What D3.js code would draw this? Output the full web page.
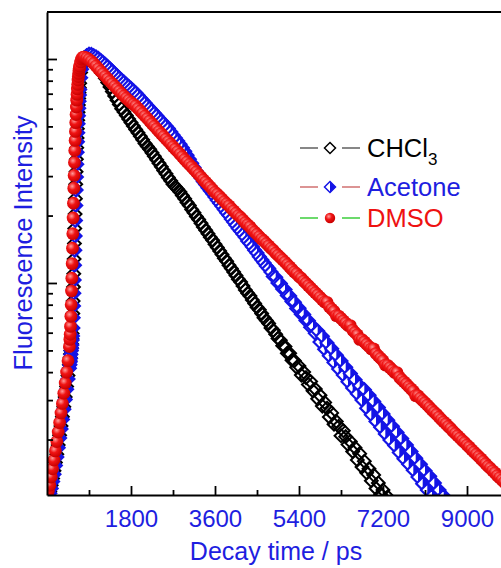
<!DOCTYPE html>
<html>
<head>
<meta charset="utf-8">
<script src="https://cdn.jsdelivr.net/npm/d3@7"></script>
<style>
  body { margin: 0; background: #fff; }
  text { font-family: Arial, "Liberation Sans", sans-serif; }
</style>
</head>
<body>
<div id="chart"></div>
<script>

///////////////////////////////////////////////////////////////////////////
////////////////////////////////// Data ///////////////////////////////////
///////////////////////////////////////////////////////////////////////////

// time channels (ps) - rising edge is sampled finer than the decay
var riseTime = [0, 30, 60, 90, 120, 150, 180, 210, 240, 270, 300, 330, 360, 390, 420, 450, 480,
  490, 497, 504, 511, 518, 525, 532, 539, 546, 553, 560, 567, 574, 581, 588, 595, 602, 609, 616,
  623, 630, 637, 644, 651, 658, 665, 672, 679, 686, 693, 700,
  720, 740, 760, 780]

var decayTime = [800, 850, 900, 950, 1000, 1050, 1100, 1150, 1200, 1250, 1300, 1350, 1400, 1450, 1500, 1550, 1600, 1650, 1700, 1750,
  1800, 1850, 1900, 1950, 2000, 2050, 2100, 2150, 2200, 2250, 2300, 2350, 2400, 2450, 2500, 2550, 2600, 2650, 2700, 2750,
  2800, 2850, 2900, 2950, 3000, 3050, 3100, 3150, 3200, 3250, 3300, 3350, 3400, 3450, 3500, 3550, 3600, 3650, 3700, 3750,
  3800, 3850, 3900, 3950, 4000, 4050, 4100, 4150, 4200, 4250, 4300, 4350, 4400, 4450, 4500, 4550, 4600, 4650, 4700, 4750,
  4800, 4850, 4900, 4950, 5000, 5050, 5100, 5150, 5200, 5250, 5300, 5350, 5400, 5450, 5500, 5550, 5600, 5650, 5700, 5750,
  5800, 5850, 5900, 5950, 6000, 6050, 6100, 6150, 6200, 6250, 6300, 6350, 6400, 6450, 6500, 6550, 6600, 6650, 6700, 6750,
  6800, 6850, 6900, 6950, 7000, 7050, 7100, 7150, 7200, 7250, 7300, 7350, 7400, 7450, 7500, 7550, 7600, 7650, 7700, 7750,
  7800, 7850, 7900, 7950, 8000, 8050, 8100, 8150, 8200, 8250, 8300, 8350, 8400, 8450, 8500, 8550, 8600, 8650, 8700, 8750,
  8800, 8850, 8900, 8950, 9000, 9050, 9100, 9150, 9200, 9250, 9300, 9350, 9400, 9450, 9500, 9550, 9600, 9650, 9700, 9750,
  9800, 9850, 9900, 9950, 10000]

// counts on the rising edge (one per riseTime)
var chcl3Rise = [10.9, 11.2, 11.7, 12.5, 13.4, 14.5, 15.8, 17.2, 18.9, 20.9, 23, 25.3, 28, 31, 34.5, 38.6, 43.2,
  45, 46.5, 48.2, 50, 51.5, 53.5, 56.5, 59.5, 63, 73, 83, 96, 110, 128, 150, 175, 203, 238, 276,
  314, 357, 402, 444, 488, 533, 578, 623, 667, 707, 745, 780,
  870, 930, 970, 1000]
var acetoneRise = [10.8, 11.1, 11.5, 12.1, 13.0, 14.0, 15.3, 16.7, 18.4, 20.3, 22.3, 24.6, 27.3, 30.2, 33.5, 37.3, 41.6,
  43.2, 44.5, 46, 48, 49.8, 51, 52.8, 55.6, 58, 63, 70, 79, 90, 103, 120, 140, 162, 190, 222,
  260, 297, 339, 383, 427, 469, 514, 558, 603, 648, 690, 730,
  825, 900, 952, 990]
var dmsoRise = [11.3, 11.8, 12.5, 13.6, 14.8, 16.2, 17.8, 19.6, 21.6, 23.8, 26.3, 29, 32.2, 35.8, 40, 45, 52,
  56, 59, 64, 71, 80, 92, 105, 122, 143, 166, 195, 227, 265, 302, 345, 390, 433, 475, 520,
  565, 610, 655, 695, 735, 770, 805, 835, 862, 890, 910, 930,
  970, 1000, 1015, 1020]

// counts on the decay (one per decayTime, until the trace leaves the frame)
var chcl3Decay = [1015, 1030, 1025, 1008, 985, 958, 930, 893, 855, 820, 785, 750, 715, 684, 655, 627, 600, 580, 560, 539,
  520, 502, 485, 468, 452, 436, 420, 407, 395, 381, 368, 355, 342, 330, 318, 307, 296, 286, 276, 269,
  262, 255, 246, 238, 229, 222, 213, 206, 198, 192, 185, 178, 172, 166, 160, 155, 149, 144, 139, 134,
  129, 125, 120, 116, 112, 108, 104, 101, 97, 93, 90, 87.5, 84, 81, 78, 76, 73, 70, 68, 66,
  63, 61.5, 59, 56.5, 55.5, 52.5, 52, 48.6, 48.5, 45.2, 45, 42, 42.6, 38.8, 40, 37.8, 35.2, 36.3, 33, 33.6,
  30.4, 31.5, 28.2, 29.3, 27.6, 25.2, 26.3, 23.4, 24.1, 22.9, 20.8, 21.9, 20.6, 19, 19.6, 17.7, 18.4, 16.2, 17.3, 15.1,
  16, 14.2, 14.8, 13.1, 13.9, 12.1, 12.8, 11.4, 11.9, 10.6, 11.1, 9.9, 10.3]
var acetoneDecay = [1010, 1035, 1050, 1048, 1035, 1022, 1005, 985, 965, 945, 925, 903, 882, 862, 842, 823, 805, 787, 770, 754,
  738, 722, 706, 688, 670, 653, 636, 619, 603, 588, 573, 558, 543, 529, 516, 502, 489, 473, 458, 444,
  430, 416, 402, 387, 372, 357, 342, 328, 315, 304, 294, 284, 275, 266, 258, 250, 242, 234, 227, 220,
  213, 206, 200, 193, 187, 181, 175, 170, 165, 160, 154, 150, 145, 140, 136, 131, 127, 123, 119, 116,
  112, 107, 106, 100, 99.5, 94, 93.5, 88, 87.5, 82.6, 82.1, 77, 77.2, 72.5, 72.4, 68, 67.9, 63.5, 63.9, 59.6,
  61, 54.5, 57.8, 50.6, 54, 47.3, 50.9, 44.2, 47.6, 41.3, 44.9, 38.8, 42, 36.2, 39.4, 34, 37, 32, 34.8, 30,
  33.4, 27.6, 31.5, 25.8, 29.6, 24.1, 27.8, 22.7, 26, 21.2, 24.4, 19.9, 22.9, 18.8, 21.5, 17.5, 20.2, 16.4, 18.9, 15.5,
  17.7, 14.6, 16.5, 13.6, 15.5, 12.7, 14.5, 11.9, 13.7, 11.2, 12.8, 10.5, 11.9, 10.1, 11.2, 9.5, 10.3]
var dmsoDecay = [1020, 1010, 995, 976, 955, 930, 905, 882, 860, 837, 815, 795, 775, 756, 737, 718, 700, 684, 668, 654,
  640, 628, 617, 601, 586, 571, 556, 542, 528, 514, 501, 488, 475, 463, 451, 439, 428, 417, 406, 396,
  386, 376, 366, 356, 347, 338, 330, 321, 313, 305, 297, 289, 282, 275, 268, 261, 254, 249, 243, 237,
  231, 226, 221, 215, 210, 205, 200, 196, 191, 186, 182, 178, 173, 169, 165, 161, 157, 154, 150, 146.5,
  143, 140, 136, 133, 130, 127, 124, 121, 118, 115, 112, 110, 107, 105, 102, 99.7, 97.3, 95, 92.7, 90.5,
  88.4, 86.3, 84.2, 82.2, 82, 78.4, 76.5, 74.7, 71.5, 71.2, 69.5, 67.8, 66.2, 64.6, 64.5, 61.6, 60.1, 58.7, 56, 55.9,
  54.6, 53.3, 52, 50.8, 50.8, 48.4, 47.2, 46.1, 45, 43, 42.9, 41.9, 40.9, 39.9, 39.8, 38, 37.1, 36.2, 35.4, 34.5,
  33.7, 32.9, 31.4, 31.4, 30.6, 29.9, 29.2, 28.5, 27.8, 27.1, 26.5, 25.9, 25.2, 24.6, 24, 23.5, 22.9, 22.4, 21.8, 21.3,
  20.8, 20.3, 19.8, 19.4, 18.9, 18.5, 18, 17.6, 17.2, 16.8, 16.4, 16, 15.6, 15.2, 14.9, 14.5, 14.2, 13.8, 13.5, 13.2,
  12.9, 12.6, 12.3, 12, 11.7]

var solvents = ["CHCl3", "Acetone", "DMSO"]
var xTicks = [1800, 3600, 5400, 7200, 9000]
var xMinorTicks = [900, 2700, 4500, 6300, 8100, 9900]
var yTicks = [100, 1000]
var yMinorTicks = [20, 30, 40, 50, 60, 70, 80, 90, 200, 300, 400, 500, 600, 700, 800, 900]

///////////////////////////////////////////////////////////////////////////
///////////////////////////////// Globals /////////////////////////////////
///////////////////////////////////////////////////////////////////////////

var canvasDim = { width: 501, height: 568 }
var plot = { left: 47, top: 12, bottom: 495 }
var blue = "#1e1ee0"
var red = "#ee1111"

var svg = d3.select("#chart").append("svg")
  .attr("width", canvasDim.width)
  .attr("height", canvasDim.height)

// 1800 ps = 84 px, the frame runs on past the right edge of the picture
var x = d3.scaleLinear().domain([0, 10000]).range([plot.left, plot.left + 10000 * 84 / 1800])
var y = d3.scaleLog().domain([11.31, 1621]).range([plot.bottom, plot.top])

var defs = svg.append("defs")
defs.append("clipPath").attr("id", "clip")
  .append("rect")
  .attr("x", plot.left).attr("y", plot.top)
  .attr("width", canvasDim.width).attr("height", plot.bottom - plot.top)

var ball = defs.append("radialGradient").attr("id", "ball")
  .attr("cx", "38%").attr("cy", "35%").attr("r", "65%")
ball.append("stop").attr("offset", "0%").attr("stop-color", "#ff9c9c")
ball.append("stop").attr("offset", "45%").attr("stop-color", "#f01414")
ball.append("stop").attr("offset", "100%").attr("stop-color", "#c80000")

///////////////////////////////////////////////////////////////////////////
////////////////////////////////// Series /////////////////////////////////
///////////////////////////////////////////////////////////////////////////

function toPoints(rise, decay) {
  var pts = riseTime.map((t, i) => ({ t: t, c: rise[i] }))
  decay.forEach((c, i) => pts.push({ t: decayTime[i], c: c }))
  return pts
}

var series = [
  { name: solvents[0], pts: toPoints(chcl3Rise, chcl3Decay) },
  { name: solvents[1], pts: toPoints(acetoneRise, acetoneDecay) },
  { name: solvents[2], pts: toPoints(dmsoRise, dmsoDecay) }
]

function diamondPath(d) { return "M0," + (-d) + "L" + d + ",0L0," + d + "L" + (-d) + ",0Z" }
function halfPath(d) { return "M0," + (-d) + "L" + d + ",0L0," + d + "Z" }

var md = 6.4

var dataG = svg.append("g").attr("clip-path", "url(#clip)")

// CHCl3 - open diamonds
dataG.append("g").selectAll("path")
  .data(series[0].pts)
  .enter().append("path")
    .attr("transform", p => "translate(" + x(p.t) + "," + y(p.c) + ")")
    .attr("d", diamondPath(md))
    .style("fill", "none")
    .style("stroke", "#000")
    .style("stroke-width", 2)

// Acetone - half filled diamonds
var ac = dataG.append("g").selectAll("g")
  .data(series[1].pts)
  .enter().append("g")
    .attr("transform", p => "translate(" + x(p.t) + "," + y(p.c) + ")")
ac.append("path").attr("d", diamondPath(md))
  .style("fill", "#fff").style("stroke", "#1414e6").style("stroke-width", 2.2)
ac.append("path").attr("d", halfPath(md)).style("fill", "#1414e6")

// DMSO - shaded balls
dataG.append("g").selectAll("circle")
  .data(series[2].pts)
  .enter().append("circle")
    .attr("cx", p => x(p.t))
    .attr("cy", p => y(p.c))
    .attr("r", 6.4)
    .style("fill", "url(#ball)")

///////////////////////////////////////////////////////////////////////////
////////////////////////////////// Axes ///////////////////////////////////
///////////////////////////////////////////////////////////////////////////

var xAxis = svg.append("g")
  .attr("transform", "translate(0," + plot.bottom + ")")
  .call(d3.axisBottom(x).tickValues(xTicks).tickSize(-9).tickSizeOuter(0)
    .tickPadding(15).tickFormat(d3.format("d")))
xAxis.select(".domain").style("stroke-width", 2)
xAxis.selectAll(".tick line").style("stroke-width", 1.8)
xAxis.selectAll("text").style("font-size", "24px").style("fill", blue)

svg.append("g")
  .attr("transform", "translate(0," + plot.bottom + ")")
  .call(d3.axisBottom(x).tickValues(xMinorTicks).tickSize(-5).tickFormat(""))
  .call(g => g.select(".domain").remove())
  .selectAll(".tick line").style("stroke-width", 1.8)

var yAxis = svg.append("g")
  .attr("transform", "translate(" + plot.left + ",0)")
  .call(d3.axisLeft(y).tickValues(yTicks).tickSize(-10).tickSizeOuter(0).tickFormat(""))
yAxis.select(".domain").style("stroke-width", 2)
yAxis.selectAll(".tick line").style("stroke-width", 1.8)

svg.append("g")
  .attr("transform", "translate(" + plot.left + ",0)")
  .call(d3.axisLeft(y).tickValues(yMinorTicks).tickSize(-6).tickFormat(""))
  .call(g => g.select(".domain").remove())
  .selectAll(".tick line").style("stroke-width", 1.8)

// top frame line
svg.append("line")
  .attr("x1", plot.left).attr("x2", canvasDim.width)
  .attr("y1", plot.top).attr("y2", plot.top)
  .style("stroke", "#000").style("stroke-width", 2)

svg.append("text")
  .attr("x", 276).attr("y", 560)
  .attr("text-anchor", "middle")
  .style("font-size", "25px").style("fill", blue)
  .text("Decay time / ps")

svg.append("text")
  .attr("transform", "translate(32,243) rotate(-90)")
  .attr("text-anchor", "middle")
  .style("font-size", "25.5px").style("fill", blue)
  .text("Fluorescence Intensity")

///////////////////////////////////////////////////////////////////////////
///////////////////////////////// Legend //////////////////////////////////
///////////////////////////////////////////////////////////////////////////

var legendRows = [
  { y: 148, line: "#7a7a7a", color: "#000" },
  { y: 187, line: "#d88888", color: blue },
  { y: 218, line: "#5cd65c", color: red }
]

var leg = svg.append("g").selectAll("g")
  .data(legendRows)
  .enter().append("g")
    .attr("transform", r => "translate(0," + r.y + ")")

leg.append("line").attr("x1", 300).attr("x2", 318)
  .style("stroke", r => r.line).style("stroke-width", 1.8)
leg.append("line").attr("x1", 342).attr("x2", 360)
  .style("stroke", r => r.line).style("stroke-width", 1.8)

d3.select(leg.nodes()[0]).append("path")
  .attr("transform", "translate(330,0)").attr("d", diamondPath(5.5))
  .style("fill", "#fff").style("stroke", "#000").style("stroke-width", 1.5)
var lm2 = d3.select(leg.nodes()[1]).append("g").attr("transform", "translate(330,0)")
lm2.append("path").attr("d", diamondPath(5.5)).style("fill", "#fff").style("stroke", "#1414e6").style("stroke-width", 1.5)
lm2.append("path").attr("d", halfPath(5.5)).style("fill", "#1414e6")
d3.select(leg.nodes()[2]).append("circle")
  .attr("cx", 330).attr("r", 5.2).style("fill", "url(#ball)")

var lt = leg.append("text")
  .attr("x", 367).attr("y", 9)
  .style("font-size", "25.5px")
  .style("fill", r => r.color)

lt.each(function (r, i) {
  var t = d3.select(this)
  if (i == 0) {
    t.append("tspan").text("CHCl")
    t.append("tspan").attr("dy", 8).style("font-size", "17px").text("3")
  } else {
    t.text(solvents[i])
  }
})

</script>
</body>
</html>
